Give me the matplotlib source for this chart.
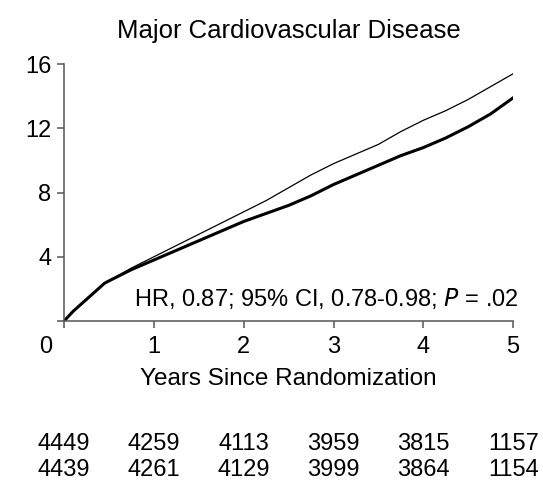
import matplotlib
matplotlib.use("Agg")
import matplotlib.pyplot as plt
from matplotlib.transforms import ScaledTranslation

plt.rcParams['font.family'] = ['Liberation Sans', 'DejaVu Sans']

# cumulative incidence (%)
years = [0.0, 0.1, 0.2, 0.3, 0.4, 0.45, 0.5, 0.75, 1.0, 1.25, 1.5, 1.75, 2.0, 2.25, 2.5,
         2.75, 3.0, 3.25, 3.5, 3.75, 4.0, 4.25, 4.5, 4.75, 5.0]
placebo = [0.0, 0.6, 1.1, 1.6, 2.1, 2.35, 2.5, 3.3, 4.0, 4.7, 5.4, 6.1, 6.8, 7.5, 8.3,
           9.1, 9.8, 10.4, 11.0, 11.8, 12.5, 13.1, 13.8, 14.6, 15.4]
treated = [0.0, 0.6, 1.1, 1.6, 2.1, 2.35, 2.5, 3.2, 3.8, 4.4, 5.0, 5.6, 6.2, 6.7, 7.2,
           7.8, 8.5, 9.1, 9.7, 10.3, 10.8, 11.4, 12.1, 12.9, 13.9]

risk_placebo = [4449, 4259, 4113, 3959, 3815, 1157]
risk_treated = [4439, 4261, 4129, 3999, 3864, 1154]

fig = plt.figure(figsize=(5.43, 4.82), dpi=100)
ax = fig.add_axes([0.118, 0.334, 0.827, 0.533])

ax.plot(years, placebo, color='black', lw=0.9)
ax.plot(years, treated, color='black', lw=2.2)

ax.set_xlim(0, 5)
ax.set_ylim(0, 16)
ax.set_xticks(range(6))
ax.set_yticks([0, 4, 8, 12, 16])
ax.set_yticklabels(['', '4', '8', '12', '16'])
for s in ['top', 'right']:
    ax.spines[s].set_visible(False)
for s in ['left', 'bottom']:
    ax.spines[s].set_color('#555555')
    ax.spines[s].set_linewidth(1.1)
ax.tick_params(direction='out', length=5, width=1.1, color='#555555',
               labelsize=17, pad=4)
ax.tick_params(axis='x', pad=6)

# the x "0" sits a bit left of the origin
lbl0 = ax.get_xticklabels()[0]
lbl0.set_transform(lbl0.get_transform() + ScaledTranslation(-0.18, 0, fig.dpi_scale_trans))

ax.set_title('Major Cardiovascular Disease', fontsize=18.5, pad=19)
ax.set_xlabel('Years Since Randomization', fontsize=17.5, labelpad=7)

ax.text(5.06, 1.4, 'HR, 0.87; 95% CI, 0.78-0.98; $\\it{P}$ = .02',
        ha='right', va='center', fontsize=17)

# number at risk rows
for i, (a, b) in enumerate(zip(risk_placebo, risk_treated)):
    xpos = i + 0.29
    ax.text(xpos, -7.63, str(a), ha='right', va='center', fontsize=17, clip_on=False)
    ax.text(xpos, -9.31, str(b), ha='right', va='center', fontsize=17, clip_on=False)

fig.savefig('out.png', dpi=100)
